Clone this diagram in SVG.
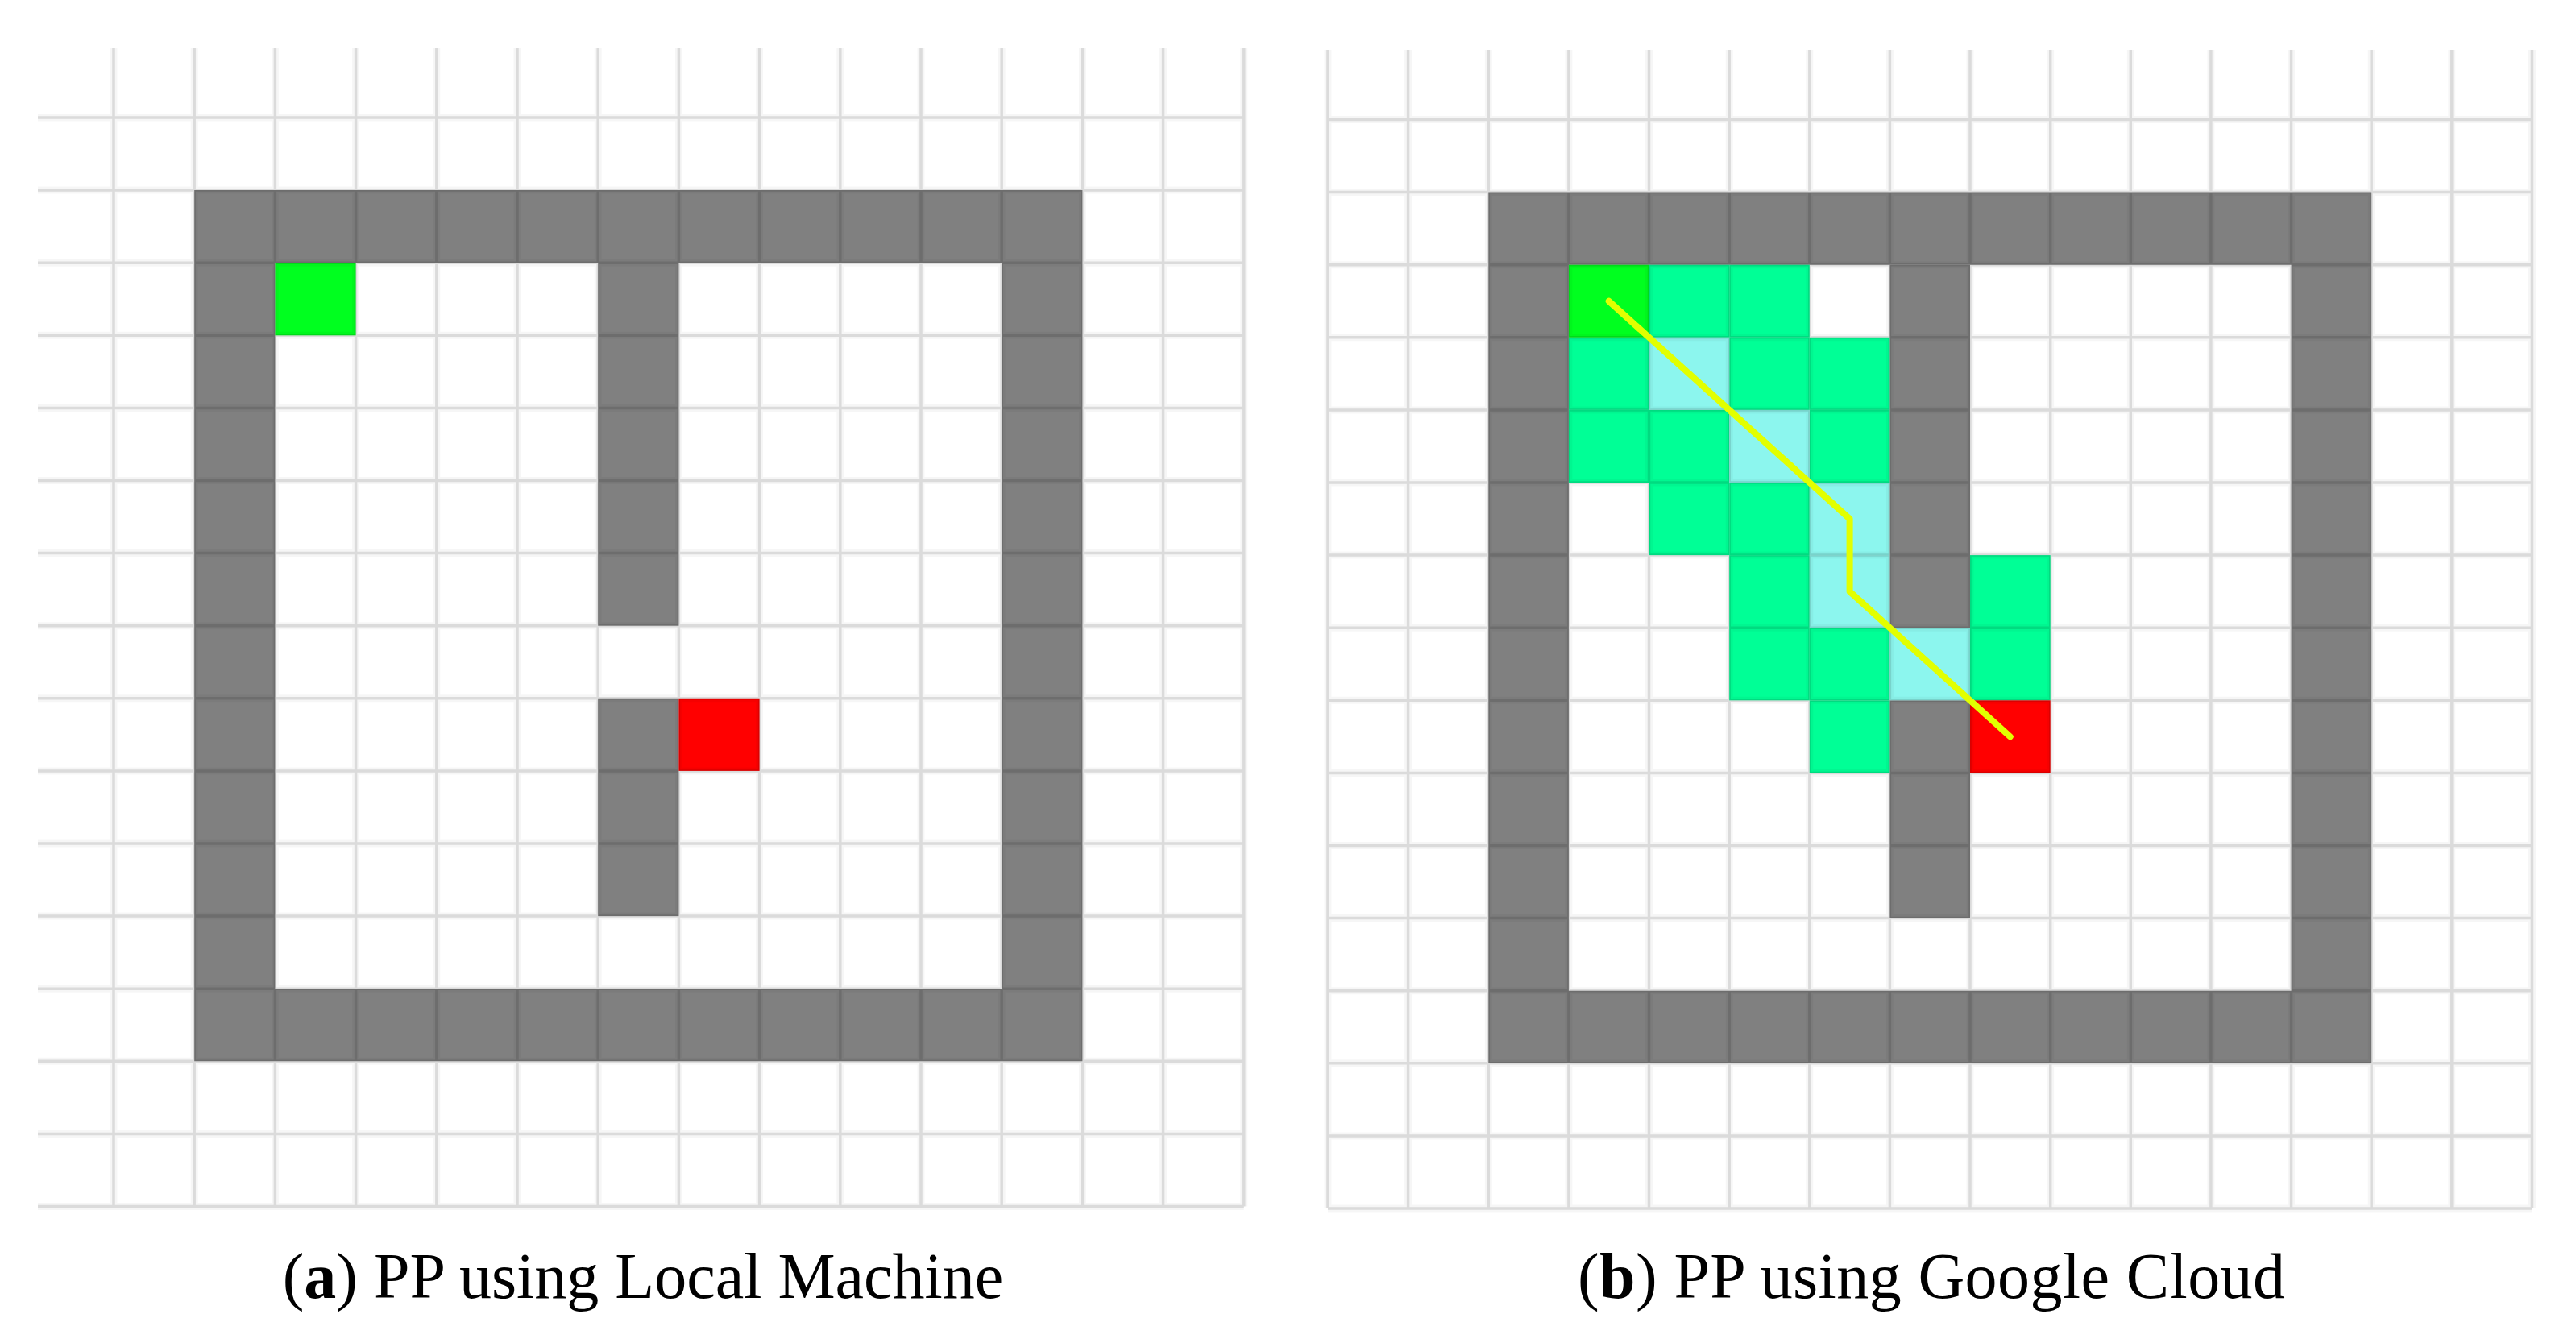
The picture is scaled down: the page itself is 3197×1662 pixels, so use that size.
<svg xmlns="http://www.w3.org/2000/svg" width="3197" height="1662" viewBox="0 0 3197 1662">
<defs>
<style>
.wall{fill:#808080}
.start{fill:#00ff1f}
.goal{fill:#ff0000}
.seen{fill:#00ff96}
.path{fill:#8cf6ee}
.gh{stroke:#000;stroke-opacity:0.035;stroke-width:9;fill:none}
.gc{stroke:#000;stroke-opacity:0.11;stroke-width:3.5;fill:none}
.route{stroke:#e2ff00;stroke-width:8;fill:none;stroke-linejoin:round;stroke-linecap:round}
.cap{font-family:"Liberation Serif","Times New Roman",serif;font-size:80px;fill:#000}
</style>
</defs>
<rect x="0" y="0" width="3197" height="1662" fill="#ffffff"/>

<g id="panel-a">
  <g id="a-walls">
    <path class="wall" fill-rule="evenodd" d="M241.2,236.1H1343.4V1317.3H241.2Z M341.4,326.2V1227.2H1243.2V326.2Z"/>
    <rect class="wall" x="742.2" y="326.2" width="100.2" height="450.5"/>
    <rect class="wall" x="742.2" y="866.8" width="100.2" height="270.3"/>
  </g>
  <rect id="a-start" class="start" x="341.4" y="326.2" width="100.2" height="90.1"/>
  <rect id="a-goal" class="goal" x="842.4" y="866.8" width="100.2" height="90.1"/>
  <g id="a-grid">
    <path class="gh" d="M141,59V1497.5M241.2,59V1497.5M341.4,59V1497.5M441.6,59V1497.5M541.8,59V1497.5M642,59V1497.5M742.2,59V1497.5M842.4,59V1497.5M942.6,59V1497.5M1042.8,59V1497.5M1143,59V1497.5M1243.2,59V1497.5M1343.4,59V1497.5M1443.6,59V1497.5M1543.8,59V1497.5 M47,146H1543.8M47,236.1H1543.8M47,326.2H1543.8M47,416.3H1543.8M47,506.4H1543.8M47,596.5H1543.8M47,686.6H1543.8M47,776.7H1543.8M47,866.8H1543.8M47,956.9H1543.8M47,1047H1543.8M47,1137.1H1543.8M47,1227.2H1543.8M47,1317.3H1543.8M47,1407.4H1543.8M47,1497.5H1543.8"/>
    <path class="gc" d="M141,59V1497.5M241.2,59V1497.5M341.4,59V1497.5M441.6,59V1497.5M541.8,59V1497.5M642,59V1497.5M742.2,59V1497.5M842.4,59V1497.5M942.6,59V1497.5M1042.8,59V1497.5M1143,59V1497.5M1243.2,59V1497.5M1343.4,59V1497.5M1443.6,59V1497.5M1543.8,59V1497.5 M47,146H1543.8M47,236.1H1543.8M47,326.2H1543.8M47,416.3H1543.8M47,506.4H1543.8M47,596.5H1543.8M47,686.6H1543.8M47,776.7H1543.8M47,866.8H1543.8M47,956.9H1543.8M47,1047H1543.8M47,1137.1H1543.8M47,1227.2H1543.8M47,1317.3H1543.8M47,1407.4H1543.8M47,1497.5H1543.8"/>
  </g>
  <text id="a-caption" class="cap" x="798" y="1611" text-anchor="middle">(<tspan font-weight="bold">a</tspan>) PP using Local Machine</text>
</g>

<g id="panel-b">
  <g id="b-walls">
    <path class="wall" fill-rule="evenodd" d="M1847.3,238.6H2943.2V1319.8H1847.3Z M1946.9,328.7V1229.7H2843.6V328.7Z"/>
    <rect class="wall" x="2345.4" y="328.7" width="99.6" height="450.5"/>
    <rect class="wall" x="2345.4" y="869.3" width="99.6" height="270.3"/>
  </g>
  <g id="b-explored">
    <rect class="seen" x="2046.5" y="328.7" width="99.7" height="90.1"/>
    <rect class="seen" x="2146.2" y="328.7" width="99.6" height="90.1"/>
    <rect class="seen" x="1946.9" y="418.8" width="99.6" height="90.1"/>
    <rect class="seen" x="2146.2" y="418.8" width="99.6" height="90.1"/>
    <rect class="seen" x="2245.8" y="418.8" width="99.6" height="90.1"/>
    <rect class="seen" x="1946.9" y="508.9" width="99.6" height="90.1"/>
    <rect class="seen" x="2046.5" y="508.9" width="99.7" height="90.1"/>
    <rect class="seen" x="2245.8" y="508.9" width="99.6" height="90.1"/>
    <rect class="seen" x="2046.5" y="599" width="99.7" height="90.1"/>
    <rect class="seen" x="2146.2" y="599" width="99.6" height="90.1"/>
    <rect class="seen" x="2146.2" y="689.1" width="99.6" height="90.1"/>
    <rect class="seen" x="2445" y="689.1" width="99.7" height="90.1"/>
    <rect class="seen" x="2146.2" y="779.2" width="99.6" height="90.1"/>
    <rect class="seen" x="2245.8" y="779.2" width="99.6" height="90.1"/>
    <rect class="seen" x="2445" y="779.2" width="99.7" height="90.1"/>
    <rect class="seen" x="2245.8" y="869.3" width="99.6" height="90.1"/>
  </g>
  <g id="b-pathcells">
    <rect class="path" x="2046.5" y="418.8" width="99.7" height="90.1"/>
    <rect class="path" x="2146.2" y="508.9" width="99.6" height="90.1"/>
    <rect class="path" x="2245.8" y="599" width="99.6" height="90.1"/>
    <rect class="path" x="2245.8" y="689.1" width="99.6" height="90.1"/>
    <rect class="path" x="2345.4" y="779.2" width="99.6" height="90.1"/>
  </g>
  <rect id="b-start" class="start" x="1946.9" y="328.7" width="99.6" height="90.1"/>
  <rect id="b-goal" class="goal" x="2445" y="869.3" width="99.7" height="90.1"/>
  <g id="b-grid">
    <path class="gh" d="M1648,62V1500M1747.6,62V1500M1847.3,62V1500M1946.9,62V1500M2046.5,62V1500M2146.2,62V1500M2245.8,62V1500M2345.4,62V1500M2445,62V1500M2544.7,62V1500M2644.3,62V1500M2743.9,62V1500M2843.6,62V1500M2943.2,62V1500M3042.8,62V1500M3142.5,62V1500 M1648,148.5H3142.5M1648,238.6H3142.5M1648,328.7H3142.5M1648,418.8H3142.5M1648,508.9H3142.5M1648,599H3142.5M1648,689.1H3142.5M1648,779.2H3142.5M1648,869.3H3142.5M1648,959.4H3142.5M1648,1049.5H3142.5M1648,1139.6H3142.5M1648,1229.7H3142.5M1648,1319.8H3142.5M1648,1409.9H3142.5M1648,1500H3142.5"/>
    <path class="gc" d="M1648,62V1500M1747.6,62V1500M1847.3,62V1500M1946.9,62V1500M2046.5,62V1500M2146.2,62V1500M2245.8,62V1500M2345.4,62V1500M2445,62V1500M2544.7,62V1500M2644.3,62V1500M2743.9,62V1500M2843.6,62V1500M2943.2,62V1500M3042.8,62V1500M3142.5,62V1500 M1648,148.5H3142.5M1648,238.6H3142.5M1648,328.7H3142.5M1648,418.8H3142.5M1648,508.9H3142.5M1648,599H3142.5M1648,689.1H3142.5M1648,779.2H3142.5M1648,869.3H3142.5M1648,959.4H3142.5M1648,1049.5H3142.5M1648,1139.6H3142.5M1648,1229.7H3142.5M1648,1319.8H3142.5M1648,1409.9H3142.5M1648,1500H3142.5"/>
  </g>
  <g id="connectors">
    <polyline id="b-route" class="route" points="1996.7,373.8 2295.6,644 2295.6,734.2 2494.8,914.4"/>
  </g>
  <text id="b-caption" class="cap" x="2397" y="1611" text-anchor="middle" textLength="878">(<tspan font-weight="bold">b</tspan>) PP using Google Cloud</text>
</g>
</svg>
